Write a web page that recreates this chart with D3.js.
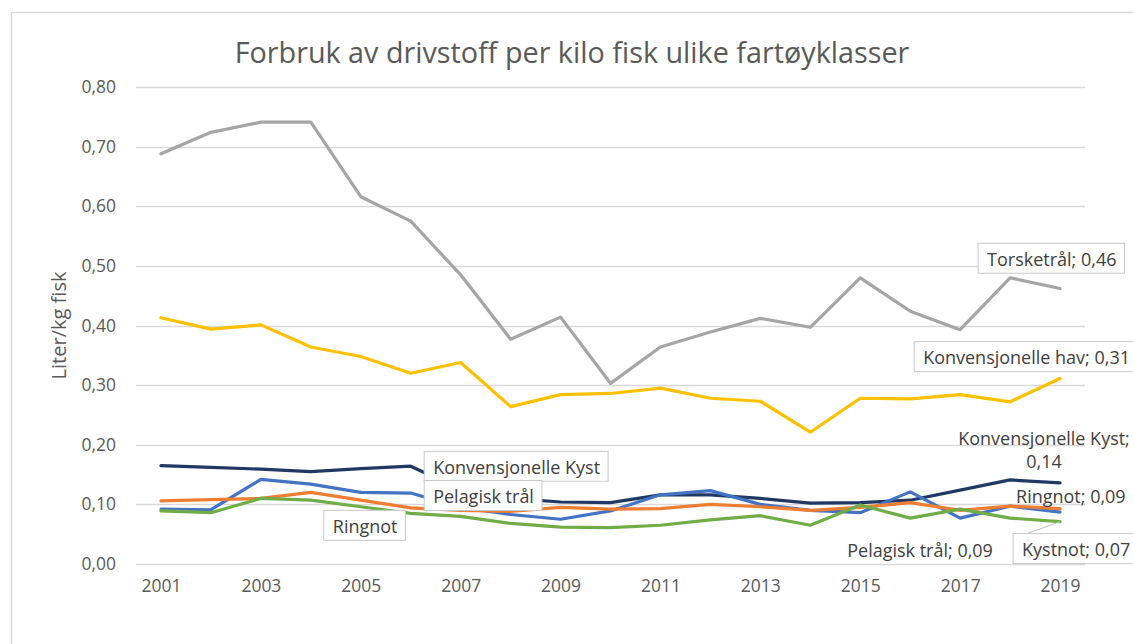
<!DOCTYPE html>
<html><head><meta charset="utf-8">
<script src="https://cdn.jsdelivr.net/npm/d3@7"></script>
<style>
body{margin:0;background:#fff}
svg{display:block}
text{font-family:"Open Sans",sans-serif}
</style>
</head><body>
<svg id="c" width="1133" height="644"></svg>
<script>
// ---------- DATA ----------
const years = [2001,2002,2003,2004,2005,2006,2007,2008,2009,2010,2011,2012,2013,2014,2015,2016,2017,2018,2019];
const torsketral = [0.688,0.724,0.741,0.741,0.616,0.575,0.485,0.377,0.414,0.303,0.364,0.389,0.412,0.397,0.480,0.424,0.393,0.480,0.462];
const konvHav    = [0.413,0.394,0.401,0.364,0.348,0.320,0.338,0.264,0.284,0.286,0.295,0.278,0.273,0.221,0.278,0.277,0.284,0.272,0.311];
const konvKyst   = [0.165,0.162,0.159,0.155,0.160,0.164,0.125,0.110,0.104,0.103,0.116,0.116,0.110,0.102,0.103,0.107,0.124,0.141,0.136];
const pelagisk   = [0.092,0.091,0.142,0.134,0.120,0.119,0.095,0.083,0.075,0.089,0.116,0.123,0.100,0.090,0.086,0.121,0.077,0.097,0.087];
const ringnot    = [0.106,0.108,0.110,0.120,0.107,0.094,0.090,0.088,0.095,0.092,0.093,0.100,0.096,0.090,0.095,0.103,0.090,0.097,0.093];
const kystnot    = [0.089,0.086,0.110,0.107,0.096,0.085,0.080,0.068,0.062,0.061,0.065,0.074,0.081,0.065,0.099,0.077,0.092,0.077,0.071];
const yTicks = [0,0.1,0.2,0.3,0.4,0.5,0.6,0.7,0.8];
const xTickYears = [2001,2003,2005,2007,2009,2011,2013,2015,2017,2019];
const seriesNames = ["Torsketrål","Konvensjonelle hav","Konvensjonelle Kyst","Pelagisk trål","Ringnot","Kystnot"];
const title = "Forbruk av drivstoff per kilo fisk ulike fartøyklasser";
const yTitle = "Liter/kg fisk";

// ---------- STYLE / LAYOUT ----------
const colors = ["#a5a5a5","#ffc000","#203864","#4472c4","#ed7d31","#70ad47"];
const series = [torsketral, konvHav, konvKyst, pelagisk, ringnot, kystnot];
const fmt = v => d3.format(".2f")(v).replace(".", ",");

const svg = d3.select("#c");
const x = d3.scaleLinear().domain([2000.5, 2019.5]).range([136, 1085]);
const y = d3.scaleLinear().domain([0, 0.8]).range([564, 87]);

function fitSize(str, target, probe) {
  const t = svg.append("text").attr("font-size", probe).text(str);
  const w = t.node().getComputedTextLength();
  t.remove();
  return probe * target / w;
}

// chart area border
svg.append("rect").attr("x", 11.5).attr("y", 12.5).attr("width", 1140).attr("height", 650)
  .attr("fill", "#fff").attr("stroke", "#d9d9d9").attr("stroke-width", 1.5);

// title
const titleSize = fitSize(title, 675, 24);
svg.append("text").attr("x", 572).attr("y", 51).attr("text-anchor", "middle")
  .attr("dominant-baseline", "central").attr("font-size", titleSize)
  .attr("fill", "#595959").text(title);

// gridlines
svg.append("g").selectAll("line").data(yTicks).join("line")
  .attr("x1", x.range()[0]).attr("x2", x.range()[1])
  .attr("y1", d => Math.round(y(d)) + 0.5).attr("y2", d => Math.round(y(d)) + 0.5)
  .attr("stroke", "#d9d9d9").attr("stroke-width", 1.5);

// axes
const tickSize = fitSize("2001", 40, 18);
const yAxis = svg.append("g").attr("transform", `translate(${x.range()[0]},0)`)
  .call(d3.axisLeft(y).tickValues(yTicks).tickFormat(fmt).tickSize(0).tickPadding(20));
yAxis.select(".domain").remove();
yAxis.selectAll("text").attr("font-size", tickSize).attr("fill", "#595959")
  .attr("font-family", '"Open Sans",sans-serif');

const xAxis = svg.append("g").attr("transform", `translate(0,${y(0)})`)
  .call(d3.axisBottom(x).tickValues(xTickYears).tickFormat(d3.format("d")).tickSize(0).tickPadding(16));
xAxis.select(".domain").remove();
xAxis.selectAll("text").attr("font-size", tickSize).attr("fill", "#595959")
  .attr("font-family", '"Open Sans",sans-serif');

// y title
const ytSize = fitSize(yTitle, 108, 15);
svg.append("text").attr("transform", `translate(58,${(y(0)+y(0.8))/2}) rotate(-90)`)
  .attr("text-anchor", "middle").attr("dominant-baseline", "central")
  .attr("font-size", ytSize).attr("fill", "#595959").text(yTitle);

// lines
const line = d3.line().x((d, i) => x(years[i])).y(d => y(d));
svg.append("g").selectAll("path").data(series).join("path")
  .attr("d", d => line(d)).attr("fill", "none")
  .attr("stroke", (d, i) => colors[i]).attr("stroke-width", 3.2)
  .attr("stroke-linejoin", "round").attr("stroke-linecap", "round");

// ---------- DATA LABELS ----------
const last = years.length - 1;
const labelSize = fitSize("Konvensjonelle Kyst", 167, 16);
const annotations = [
  {text: seriesNames[2], yr: 2006.45, v: 0.163, box: true},
  {text: seriesNames[3], yr: 2006.45, v: 0.114, box: true},
  {text: seriesNames[4], yr: 2004.44, v: 0.064, box: true},
  {text: seriesNames[0] + "; " + fmt(torsketral[last]), yr: 2017.54, v: 0.512, box: true},
  {text: seriesNames[1] + "; " + fmt(konvHav[last]), yr: 2016.26, v: 0.347, box: true},
  {text: seriesNames[2] + ";", yr: 2018.68, v: 0.212, anchor: "middle"},
  {text: fmt(konvKyst[last]), yr: 2018.68, v: 0.173, anchor: "middle"},
  {text: seriesNames[4] + "; " + fmt(ringnot[last]), yr: 2018.12, v: 0.114},
  {text: seriesNames[3] + "; " + fmt(pelagisk[last]), yr: 2014.74, v: 0.0235},
  {text: seriesNames[5] + "; " + fmt(kystnot[last]), yr: 2018.24, v: 0.025, box: true, leader: kystnot[last]}
];
const ag = svg.append("g");
annotations.forEach(a => {
  const g = ag.append("g");
  const t = g.append("text").attr("x", x(a.yr)).attr("y", y(a.v))
    .attr("text-anchor", a.anchor || "start").attr("dominant-baseline", "central")
    .attr("font-size", labelSize).attr("fill", "#404040").text(a.text);
  if (a.box) {
    const bb = t.node().getBBox();
    const bx = bb.x - 9, bw = bb.width + 17, by = y(a.v) - 15.5, bh = 30;
    if (a.leader !== undefined) {
      g.insert("line", "text").attr("x1", x(years[last])).attr("y1", y(a.leader))
        .attr("x2", bx + 14).attr("y2", by).attr("stroke", "#bfbfbf").attr("stroke-width", 1);
    }
    g.insert("rect", "text").attr("x", bx).attr("y", by).attr("width", bw).attr("height", bh)
      .attr("fill", "#fff").attr("stroke", "#c8c8c8").attr("stroke-width", 1);
  }
});
</script>
</body></html>
